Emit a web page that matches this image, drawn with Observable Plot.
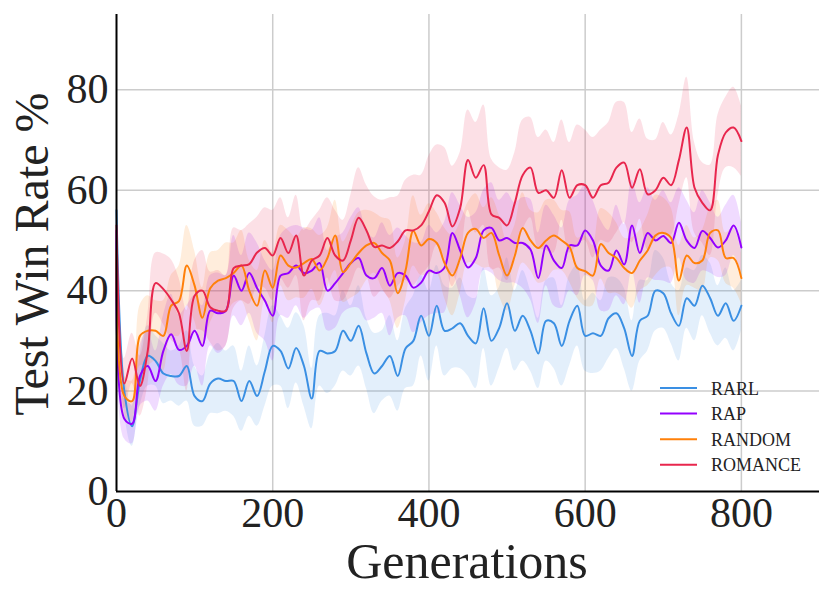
<!DOCTYPE html>
<html>
<head>
<meta charset="utf-8">
<script src="https://cdn.jsdelivr.net/npm/d3@7"></script>
<script src="https://cdn.jsdelivr.net/npm/@observablehq/plot@0.6"></script>
<style>
  html, body { margin: 0; padding: 0; background: #fff; }
  svg { display: block; }
</style>
</head>
<body>
<div id="chart"></div>
<script>
// ---- data ----
const generations = [
  0,10,20,30,40,50,60,70,80,90,
  100,110,120,130,140,150,160,170,180,190,
  200,210,220,230,240,250,260,270,280,290,
  300,310,320,330,340,350,360,370,380,390,
  400,410,420,430,440,450,460,470,480,490,
  500,510,520,530,540,550,560,570,580,590,
  600,610,620,630,640,650,660,670,680,690,
  700,710,720,730,740,750,760,770,780,790,
  800];

const seriesNames = ["RARL", "RAP", "RANDOM", "ROMANCE"];
const seriesColors = ["#3a8fe3", "#9400ff", "#ff800a", "#e8264d"];

const rarlMean = [
  56,20,13,22,27,26,23.5,23,23,25,
  19,18,21.5,22.5,22,22,18,22,19,24,
  29,28,24.5,28.6,25,18.5,28,27.5,28,32,
  30,33,27.5,23.5,25,27,23,28.5,30,35,
  31,37,32,32.5,33.5,31,29.5,36.5,30,32.6,
  37.5,32,35,32,27.5,34,33.5,29,34,37,
  31,31.5,31,34.5,35.5,32.5,27,34,35,40,
  39.5,35.5,33,38.5,37,41,38.5,35,37.5,34,
  37];
const rarlSpread = [
  2,4,4,5,6,5,6,5,6,7,
  6,5,6,7,6,7,6,7,6,7,
  8,7,8,7,8,6,7,8,7,8,
  7,8,7,8,7,8,7,8,9,8,
  9,8,9,8,9,8,9,8,9,8,
  9,8,9,8,7,8,9,8,9,8,
  7,8,7,8,7,8,7,8,7,8,
  7,6,7,6,7,6,7,6,7,6,
  5];

const rapMean = [
  52,14.5,13.5,23,25,22,28,31.3,28.2,29,
  32,29,36,35.5,36,43,40,43.5,40.5,38,
  35,43,43.5,45,43.5,44,45.5,40,41.5,43.5,
  45.5,46.5,43,42.5,44.5,41,43.5,43,40.6,41.6,
  44,43.5,44.6,51.5,48,44.6,46.5,52,52.5,50,
  50.5,49.5,49.5,48.2,42.5,49,46,44.5,49,49,
  52,50,45,44,48,45.2,53,47.5,51.5,50,
  50.9,49.5,53.5,50,48.5,51.9,50.5,48.6,50,53,
  48.6];
const rapSpread = [
  2,4,4,6,7,6,7,8,7,8,
  7,8,7,8,7,8,7,8,9,8,
  9,8,9,8,9,8,9,8,9,8,
  9,10,9,8,9,10,9,8,9,8,
  9,8,9,8,9,10,9,8,9,8,
  9,8,9,10,9,8,9,8,9,10,
  9,8,9,8,9,8,9,10,9,8,
  9,8,7,8,7,8,7,6,7,6,
  5];

const randomMean = [
  48,19,18,31,32,32,31,37,37.9,45,
  41,34.6,40.5,42,42.5,43.5,45,40,37,44,
  40.6,47,45,44.6,45.5,46.3,44,46.5,51,43.7,
  45.5,47.5,49,49.5,47.5,46,39.5,44,51.9,49,
  50.3,49.5,45.5,43,46.5,51.5,52.3,50.5,51.5,47,
  43,47,52.5,50,48.5,50,51,50,48.7,44.5,
  43.9,43,49.3,47.5,46.5,44.5,43.5,46,48,51,
  51.5,50.5,42,47,45.5,46,51.5,52,46.5,46.5,
  42.5];
const randomSpread = [
  2,4,4,6,7,6,7,6,7,8,
  7,6,7,6,7,6,7,6,7,6,
  7,6,7,6,7,6,7,6,7,6,
  7,8,7,6,7,8,7,6,7,6,
  7,6,7,8,7,6,7,6,7,8,
  7,6,7,6,7,8,7,6,7,6,
  7,6,7,8,7,6,7,6,7,8,
  7,6,7,6,5,6,5,6,5,6,
  5];

const romanceMean = [
  53,21.5,26.5,21,28,41.5,40.3,38.2,35.5,28,
  39,40,36.7,36,36,44.5,45,45.3,47.6,48.5,
  47,50.5,47.5,51,43,46,47,50.5,47,46,
  50,54.5,52,48.7,49,48.5,49.8,52,52,53,
  55.8,59,57.5,52.8,56.5,66,62.5,65,55.2,54.5,
  53,57.5,63,64.5,59.5,60,58.5,64,58.5,61,
  61,58.5,61,61.5,64.5,65.5,60.5,64.2,59.2,60,
  62.5,61,66,72.5,60.5,57.5,56,67,71.5,72.5,
  69.8];
const romanceSpread = [
  2,5,5,6,7,6,7,8,7,8,
  7,8,7,8,7,8,7,8,7,8,
  9,8,7,8,9,8,9,8,9,8,
  9,10,9,10,9,10,9,10,11,10,
  11,10,11,12,11,10,11,12,11,10,
  11,10,11,10,11,12,11,10,11,12,
  11,12,11,12,13,12,11,10,11,10,
  11,10,9,10,9,8,9,8,7,8,
  7];

const xTicks = [0, 200, 400, 600, 800];
const yTicks = [0, 20, 40, 60, 80];

// ---- build long table ----
const means = [rarlMean, rapMean, randomMean, romanceMean];
const spreads = [rarlSpread, rapSpread, randomSpread, romanceSpread];
const rows = [];
seriesNames.forEach((name, si) => {
  generations.forEach((g, i) => {
    rows.push({series: name, gen: g, mean: means[si][i],
      lo: means[si][i] - spreads[si][i], hi: means[si][i] + spreads[si][i]});
  });
});

const color = {domain: seriesNames, range: seriesColors};

const svg = Plot.plot({
  width: 830,
  height: 603,
  marginLeft: 116,
  marginRight: 11,
  marginTop: 14,
  marginBottom: 112,
  style: {fontFamily: "'Liberation Serif', 'Times New Roman', serif", background: "#fff", color: "#222"},
  x: {domain: [0, 900]},
  y: {domain: [0, 95]},
  color,
  marks: [
    Plot.gridX(xTicks.slice(1), {stroke: "#cccccc", strokeOpacity: 1, strokeWidth: 1.5}),
    Plot.gridY(yTicks.slice(1), {stroke: "#cccccc", strokeOpacity: 1, strokeWidth: 1.5}),
    Plot.areaY(rows, {x: "gen", y1: "lo", y2: "hi", z: "series", fill: "series", fillOpacity: 0.14, curve: "catmull-rom"}),
    Plot.line(rows, {x: "gen", y: "mean", z: "series", stroke: "series", strokeWidth: 2, curve: "catmull-rom"}),
    Plot.ruleX([0], {stroke: "#000", strokeWidth: 2}),
    Plot.ruleY([0], {stroke: "#000", strokeWidth: 2}),
    Plot.axisX(xTicks, {tickSize: 0, tickPadding: 6, fontSize: 42, label: null, fill: "#222"}),
    Plot.axisY(yTicks, {tickSize: 0, tickPadding: 8, fontSize: 42, label: null, fill: "#222"})
  ]
});

document.getElementById("chart").appendChild(svg);

const s = d3.select(svg);
const font = "'Liberation Serif', 'Times New Roman', serif";

// axis titles
s.append("text")
  .attr("x", 467).attr("y", 578)
  .attr("text-anchor", "middle")
  .attr("font-family", font).attr("font-size", 50).attr("fill", "#222")
  .text("Generations");

s.append("text")
  .attr("transform", "translate(48,254) rotate(-90)")
  .attr("text-anchor", "middle")
  .attr("font-family", font).attr("font-size", 48).attr("fill", "#222")
  .text("Test Win Rate %");

// legend
const lg = s.append("g").attr("text-anchor", "start");
seriesNames.forEach((name, i) => {
  const yy = 388 + i * 25.6;
  lg.append("line").attr("x1", 660).attr("x2", 697).attr("y1", yy).attr("y2", yy)
    .attr("stroke", seriesColors[i]).attr("stroke-width", 2);
  lg.append("text").attr("x", 711).attr("y", yy + 6.5)
    .attr("text-anchor", "start")
    .attr("font-family", font).attr("font-size", 18).attr("fill", "#222")
    .text(name);
});
</script>
</body>
</html>
